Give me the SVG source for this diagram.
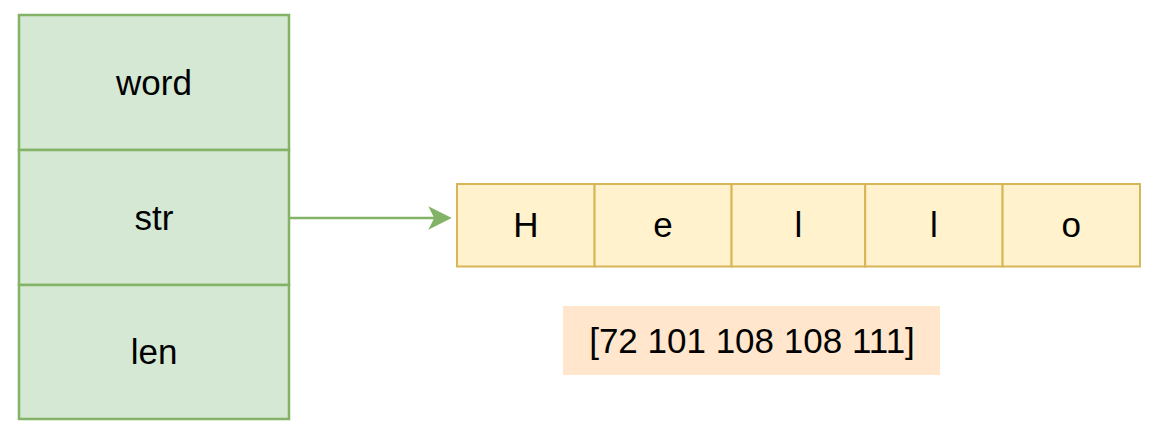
<svg xmlns="http://www.w3.org/2000/svg" width="1150" height="421" viewBox="0 0 1150 421">
<style>
.g{fill:#d5e8d4;stroke:#82b366;stroke-width:2.5}
.y{fill:#fff2cc;stroke:#d6b656;stroke-width:2}
.o{fill:#ffe6cc;stroke:none}
text{font-family:"Liberation Sans",Arial,sans-serif;font-size:35px;fill:#000;text-anchor:middle}
.c{stroke:#82b366;stroke-width:2.5;fill:none}
</style>
<rect width="1150" height="421" fill="#fff"/>
<g id="word"><rect class="g" x="19" y="15" width="270" height="135"/><text x="154" y="95">word</text></g>
<g id="str"><rect class="g" x="19" y="150" width="270" height="135"/><text x="154" y="230">str</text></g>
<g id="len"><rect class="g" x="19" y="285" width="270" height="134"/><text x="154" y="364">len</text></g>
<g id="c0"><rect class="y" x="457" y="184" width="137.6" height="82.5"/><text x="525.8" y="237">H</text></g>
<g id="c1"><rect class="y" x="594.6" y="184" width="137" height="82.5"/><text x="663" y="237">e</text></g>
<g id="c2"><rect class="y" x="731.6" y="184" width="133.6" height="82.5"/><text x="798.4" y="237">l</text></g>
<g id="c3"><rect class="y" x="865.2" y="184" width="137.4" height="82.5"/><text x="934" y="237">l</text></g>
<g id="c4"><rect class="y" x="1002.6" y="184" width="137.4" height="82.5"/><text x="1071.3" y="237">o</text></g>
<g id="bytes"><rect class="o" x="563" y="306" width="377" height="69"/><text x="752" y="353">[72 101 108 108 111]</text></g>
<g id="connectors">
<line class="c" x1="289" y1="218" x2="436" y2="218"/>
<path d="M450,218 L430,208 L435,218 L430,228 Z" fill="#82b366" stroke="#82b366" stroke-width="1.5"/>
</g>
</svg>
